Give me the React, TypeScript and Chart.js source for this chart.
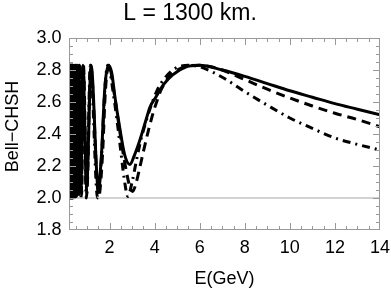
import { useEffect, useRef } from 'react';
import { Chart, registerables } from 'chart.js';

Chart.register(...registerables);

// ---- data ----
const chartTitle = 'L = 1300 km.';
const xTitle = 'E(GeV)';
const yTitle = '\u00A0\u00A0\u00A0Bell\u2212CHSH';

const xTickValues = [2, 4, 6, 8, 10, 12, 14];
const yTickValues = [1.8, 2.0, 2.2, 2.4, 2.6, 2.8, 3.0];
const X_MIN = 0.2;
const X_MAX = 14;
const Y_MIN = 1.8;
const Y_MAX = 3.0;
const classicalBound = 2.0;

// solid curve
const solidE = [0.2, 0.204, 0.212, 0.22, 0.229, 0.239, 0.249, 0.26, 0.273, 0.286, 0.3, 0.318, 0.337, 0.358, 0.38, 0.41, 0.44, 0.478, 0.52, 0.574, 0.64, 0.72, 0.82, 0.98, 1.18, 1.5, 1.64, 1.79, 1.95, 2.1, 2.23, 2.45, 2.67, 2.9, 3.11, 3.34, 3.6, 3.8, 4.05, 4.4, 4.8, 5.4, 6.0, 7, 8, 9, 10, 11, 12, 13, 14];
const solidBell = [2.5, 2.03, 2.83, 2.02, 2.83, 2.03, 2.83, 2.02, 2.83, 2.04, 2.83, 2.03, 2.83, 2.02, 2.83, 2.04, 2.83, 2.03, 2.83, 2.05, 2.83, 2.04, 2.83, 2.07, 2.83, 2.06, 2.27, 2.69, 2.83, 2.78, 2.64, 2.44, 2.27, 2.21, 2.27, 2.36, 2.48, 2.57, 2.63, 2.71, 2.77, 2.82, 2.83, 2.8, 2.76, 2.715, 2.67, 2.63, 2.59, 2.555, 2.52];

// dashed curve
const dashedE = [0.2, 0.206, 0.214, 0.224, 0.234, 0.244, 0.255, 0.267, 0.28, 0.293, 0.31, 0.327, 0.347, 0.369, 0.4, 0.43, 0.46, 0.49, 0.53, 0.57, 0.62, 0.69, 0.76, 0.84, 0.99, 1.16, 1.52, 1.68, 1.82, 1.97, 2.2, 2.45, 2.7, 2.9, 3.02, 3.15, 3.34, 3.5, 3.72, 3.95, 4.15, 4.3, 4.6, 5.0, 5.5, 6.0, 6.5, 7, 8, 9, 10, 11, 12, 13, 14];
const dashedBell = [2.3, 2.83, 2.01, 2.83, 2.0, 2.83, 2.01, 2.83, 2.0, 2.83, 2.01, 2.83, 2.0, 2.83, 2.01, 2.83, 2.0, 2.83, 2.01, 2.83, 2.0, 2.83, 2.02, 2.83, 2.03, 2.83, 2.01, 2.25, 2.68, 2.83, 2.66, 2.42, 2.2, 2.07, 2.04, 2.08, 2.19, 2.29, 2.42, 2.54, 2.625, 2.68, 2.75, 2.8, 2.825, 2.83, 2.82, 2.8, 2.74, 2.68, 2.625, 2.575, 2.53, 2.49, 2.445];

// dash-dotted curve
const dotDashE = [0.2, 0.208, 0.216, 0.226, 0.236, 0.247, 0.258, 0.27, 0.283, 0.298, 0.314, 0.333, 0.353, 0.375, 0.4, 0.42, 0.45, 0.5, 0.555, 0.6, 0.67, 0.74, 0.83, 0.97, 1.15, 1.47, 1.64, 1.79, 1.92, 2.2, 2.45, 2.65, 2.81, 3.0, 3.2, 3.4, 3.6, 3.8, 4.1, 4.4, 4.8, 5.2, 5.5, 6, 7, 8, 9, 10, 11, 12, 13, 14];
const dotDashBell = [2.6, 2.0, 2.83, 2.01, 2.83, 2.0, 2.83, 2.01, 2.83, 2.0, 2.83, 2.01, 2.83, 2.0, 2.83, 2.01, 2.83, 2.0, 2.83, 2.01, 2.83, 2.0, 2.83, 2.0, 2.83, 2.0, 2.25, 2.68, 2.83, 2.62, 2.35, 2.12, 2.01, 2.1, 2.24, 2.37, 2.47, 2.56, 2.67, 2.74, 2.8, 2.825, 2.83, 2.82, 2.755, 2.665, 2.58, 2.5, 2.435, 2.375, 2.335, 2.3];

const FONT = "'Liberation Sans', Arial, sans-serif";

function toPoints(xs: number[], ys: number[]) {
  return xs.map((x, i) => ({ x, y: ys[i] }));
}

const frameTicksPlugin = {
  id: 'frameTicks',
  afterDatasetsDraw(chart: any) {
    const { ctx, chartArea: a, scales } = chart;
    const xs = scales.x;
    const ys = scales.y;
    ctx.save();
    ctx.strokeStyle = '#999999';
    ctx.lineWidth = 1;
    ctx.strokeRect(a.left + 0.5, a.top + 0.5, a.right - a.left - 1, a.bottom - a.top - 1);
    ctx.beginPath();
    for (let k = 1; k * 0.5 < X_MAX; k++) {
      const v = k * 0.5;
      if (v <= X_MIN) continue;
      const len = v % 2 === 0 ? 7 : 4;
      const px = Math.round(xs.getPixelForValue(v)) + 0.5;
      ctx.moveTo(px, a.bottom);
      ctx.lineTo(px, a.bottom - len);
      ctx.moveTo(px, a.top);
      ctx.lineTo(px, a.top + len);
    }
    for (let k = 1; k < 24; k++) {
      const v = Y_MIN + k * 0.05;
      const major = k % 4 === 0;
      const len = major ? 7 : 4;
      const py = Math.round(ys.getPixelForValue(v)) + 0.5;
      ctx.moveTo(a.left, py);
      ctx.lineTo(a.left + len, py);
      ctx.moveTo(a.right, py);
      ctx.lineTo(a.right - len, py);
    }
    ctx.stroke();
    ctx.restore();
  },
};

export default function App() {
  const canvasRef = useRef<HTMLCanvasElement | null>(null);

  useEffect(() => {
    document.body.style.margin = '0';
    const canvas = canvasRef.current;
    if (!canvas) return;
    const lineBase = {
      borderColor: '#000000',
      backgroundColor: '#000000',
      borderWidth: 3,
      pointRadius: 0,
      fill: false,
      cubicInterpolationMode: 'monotone' as const,
      borderCapStyle: 'butt' as const,
    };
    const chart = new Chart(canvas, {
      type: 'line',
      data: {
        datasets: [
          { ...lineBase, data: toPoints(solidE, solidBell), order: 1 },
          { ...lineBase, data: toPoints(dashedE, dashedBell), borderDash: [9, 6], order: 2 },
          { ...lineBase, data: toPoints(dotDashE, dotDashBell), borderDash: [8, 5, 2, 5], order: 3 },
          {
            data: [
              { x: X_MIN, y: classicalBound },
              { x: X_MAX, y: classicalBound },
            ],
            borderColor: '#c4c4c4',
            borderWidth: 1.5,
            pointRadius: 0,
            order: 10,
          },
        ],
      },
      options: {
        responsive: false,
        animation: false,
        devicePixelRatio: 1,
        layout: { padding: { left: 0, right: 11, top: 0, bottom: 0 } },
        plugins: {
          legend: { display: false },
          tooltip: { enabled: false },
          title: {
            display: true,
            text: chartTitle,
            color: '#000000',
            font: { family: FONT, size: 23, weight: 'normal' },
            padding: { top: 0, bottom: 10.4 },
          },
        },
        scales: {
          x: {
            type: 'linear',
            min: X_MIN,
            max: X_MAX,
            grid: { display: false, drawTicks: false },
            border: { display: false },
            afterBuildTicks: (s: any) => {
              s.ticks = xTickValues.map((v) => ({ value: v }));
            },
            ticks: {
              callback: (v: any) => String(v),
              color: '#000000',
              font: { family: FONT, size: 18 },
              padding: 7,
              maxRotation: 0,
              autoSkip: false,
            },
            title: {
              display: true,
              text: xTitle,
              color: '#000000',
              font: { family: FONT, size: 18 },
              padding: { top: 0, bottom: 1.7 },
            },
            afterFit: (s: any) => {
              s.height = 62;
              s.paddingLeft = 0;
              s.paddingRight = 0;
            },
          },
          y: {
            type: 'linear',
            min: Y_MIN,
            max: Y_MAX,
            grid: { display: false, drawTicks: false },
            border: { display: false },
            afterBuildTicks: (s: any) => {
              s.ticks = yTickValues.map((v) => ({ value: v }));
            },
            ticks: {
              callback: (v: any) => Number(v).toFixed(1),
              color: '#000000',
              font: { family: FONT, size: 18 },
              padding: 7.5,
              autoSkip: false,
            },
            title: {
              display: true,
              text: yTitle,
              color: '#000000',
              font: { family: FONT, size: 18 },
              padding: { top: 2.5, bottom: 0 },
            },
            afterFit: (s: any) => {
              s.width = 69;
              s.paddingTop = 0;
              s.paddingBottom = 0;
            },
          },
        },
      },
      plugins: [frameTicksPlugin],
    });
    return () => chart.destroy();
  }, []);

  return (
    <div style={{ width: 391, height: 292, position: 'relative' }}>
      <canvas ref={canvasRef} width={391} height={292} style={{ display: 'block' }} />
    </div>
  );
}
